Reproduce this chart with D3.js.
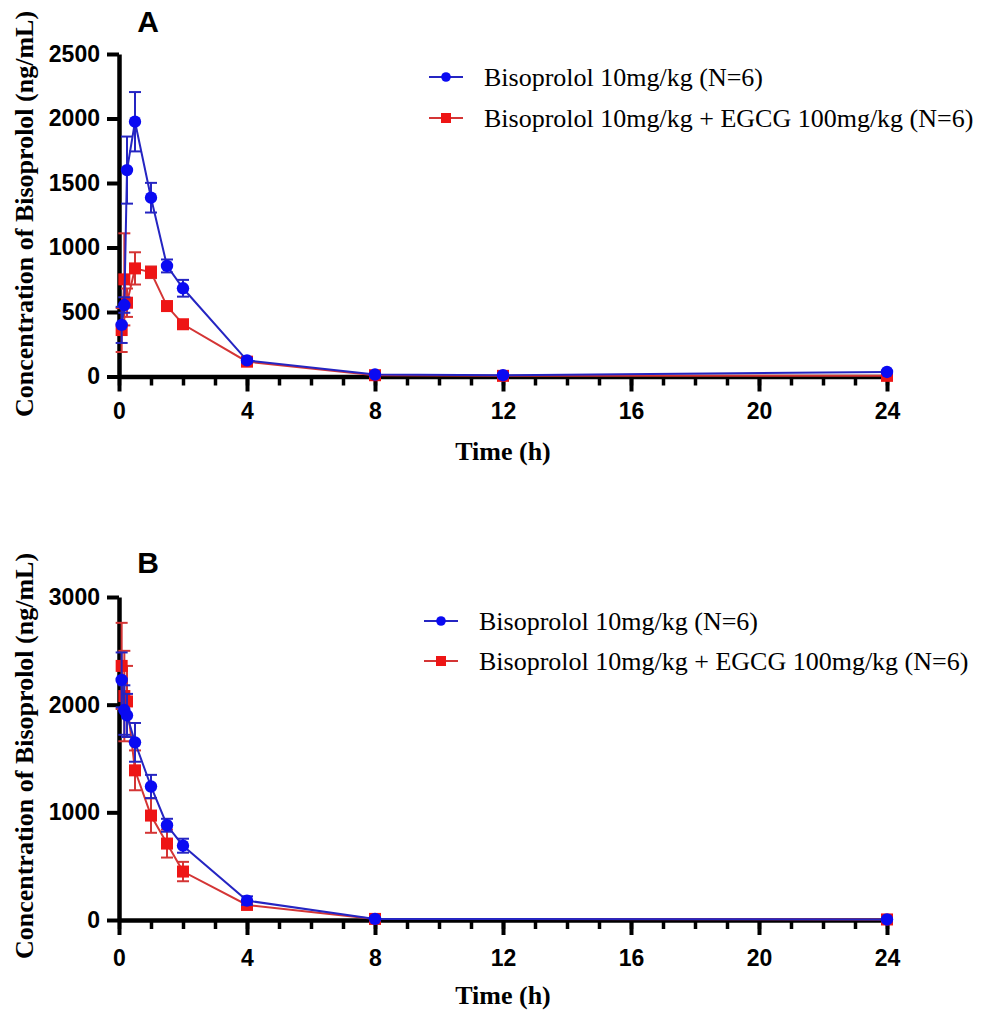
<!DOCTYPE html>
<html lang="en">
<head>
<meta charset="UTF-8">
<title>Bisoprolol concentration</title>
<script src="https://d3js.org/d3.v7.min.js"></script>
<style>
  body { margin: 0; background: #fff; }
  svg { display: block; }
  .tick text { font-family: "Liberation Sans", Arial, sans-serif; font-weight: bold; font-size: 23px; fill: #000; }
  .axis-title { font-family: "Liberation Serif", "Times New Roman", serif; font-weight: bold; font-size: 26px; }
  .legend text { font-family: "Liberation Serif", "Times New Roman", serif; font-size: 26px; }
  .panel-label { font-family: "Liberation Sans", Arial, sans-serif; font-weight: bold; font-size: 30px; }
</style>
</head>
<body>
<div id="chart"></div>
<script>
// Panel A
const timesA = [0.083, 0.167, 0.25, 0.5, 1, 1.5, 2, 4, 8, 12, 24];
const bisoA = [400, 554, 1600, 1975, 1386, 857, 684, 125, 15, 10, 35];
const bisoAsd = [140, 60, 260, 230, 115, 50, 65, 15, 5, 5, 5];
const egcgA = [360, 753, 572, 838, 808, 546, 405, 115, 10, 5, 5];
const egcgAsd = [170, 357, 110, 125, 45, 30, 15, 10, 3, 2, 2];
const yTicksA = [0, 500, 1000, 1500, 2000, 2500];

// Panel B
const timesB = [0.083, 0.167, 0.25, 0.5, 1, 1.5, 2, 4, 8, 24];
const bisoB = [2230, 1950, 1900, 1650, 1240, 880, 690, 180, 10, 5];
const bisoBsd = [255, 230, 200, 180, 108, 60, 65, 40, 5, 3];
const egcgB = [2360, 2080, 2030, 1390, 970, 710, 450, 140, 10, 5];
const egcgBsd = [400, 420, 330, 185, 160, 130, 90, 20, 3, 2];
const yTicksB = [0, 1000, 2000, 3000];

const xMajor = [0, 4, 8, 12, 16, 20, 24];
const xMinor = d3.range(0, 25, 1);
const legendLabels = ["Bisoprolol 10mg/kg (N=6)", "Bisoprolol 10mg/kg + EGCG 100mg/kg (N=6)"];

const width = 992, height = 1017;
const blue = { marker: "#0a0af2", line: "#2525c2" };
const red = { marker: "#ee1515", line: "#d43535" };

const svg = d3.select("#chart").append("svg")
  .attr("width", width).attr("height", height);

function drawPanel(p) {
  const g = svg.append("g");
  const x = d3.scaleLinear().domain([0, 24]).range([119, 887]);
  const y = d3.scaleLinear().domain([0, p.yMax]).range([p.y0, p.yTop]);

  // x minor ticks
  g.append("g")
    .attr("transform", `translate(0,${p.y0})`)
    .call(d3.axisBottom(x).tickValues(xMinor).tickSize(9).tickSizeOuter(0).tickFormat(""))
    .call(a => a.select(".domain").remove())
    .call(a => a.selectAll("line").attr("stroke-width", 3.5));

  // x major ticks + labels
  g.append("g")
    .attr("transform", `translate(0,${p.y0})`)
    .call(d3.axisBottom(x).tickValues(xMajor).tickSize(15).tickSizeOuter(0).tickPadding(p.xPad).tickFormat(d3.format("d")))
    .call(a => a.select(".domain").attr("stroke-width", 4.5))
    .call(a => a.selectAll("line").attr("stroke-width", 4));

  // y axis
  g.append("g")
    .attr("transform", "translate(119,0)")
    .call(d3.axisLeft(y).tickValues(p.yTicks).tickSize(12).tickSizeOuter(0).tickPadding(7).tickFormat(d3.format("d")))
    .call(a => a.select(".domain").attr("stroke-width", 4.5))
    .call(a => a.selectAll("line").attr("stroke-width", 4));

  // titles
  g.append("text").attr("class", "axis-title")
    .attr("text-anchor", "middle")
    .attr("transform", `translate(33,${p.yTitleMid}) rotate(-90)`)
    .text("Concentration of Bisoprolol (ng/mL)");
  g.append("text").attr("class", "axis-title")
    .attr("text-anchor", "middle")
    .attr("x", 503).attr("y", p.xTitleY)
    .text("Time (h)");
  g.append("text").attr("class", "panel-label")
    .attr("text-anchor", "middle")
    .attr("x", 148).attr("y", p.labelY)
    .text(p.label);

  const series = [
    { vals: p.egcg, sd: p.egcgSd, c: red, shape: "square" },
    { vals: p.biso, sd: p.bisoSd, c: blue, shape: "circle" }
  ];

  series.forEach(s => {
    const pts = p.times.map((t, i) => ({ t, v: s.vals[i], sd: s.sd[i] }));
    const sg = g.append("g");

    // error bars
    const eb = sg.selectAll(".eb").data(pts).enter().append("g")
      .attr("stroke", s.c.line).attr("stroke-width", 2).attr("fill", "none");
    eb.append("line")
      .attr("x1", d => x(d.t)).attr("x2", d => x(d.t))
      .attr("y1", d => y(Math.max(0, d.v - d.sd))).attr("y2", d => y(d.v + d.sd));
    eb.append("line")
      .attr("x1", d => x(d.t) - 6).attr("x2", d => x(d.t) + 6)
      .attr("y1", d => y(d.v + d.sd)).attr("y2", d => y(d.v + d.sd));
    eb.append("line")
      .attr("x1", d => x(d.t) - 6).attr("x2", d => x(d.t) + 6)
      .attr("y1", d => y(Math.max(0, d.v - d.sd))).attr("y2", d => y(Math.max(0, d.v - d.sd)));

    // line
    sg.append("path")
      .datum(pts)
      .attr("fill", "none")
      .attr("stroke", s.c.line)
      .attr("stroke-width", 2)
      .attr("d", d3.line().x(d => x(d.t)).y(d => y(d.v)));

    // markers
    if (s.shape === "circle") {
      sg.selectAll("circle").data(pts).enter().append("circle")
        .attr("cx", d => x(d.t)).attr("cy", d => y(d.v)).attr("r", 6.2)
        .attr("fill", s.c.marker);
    } else {
      sg.selectAll("rect").data(pts).enter().append("rect")
        .attr("x", d => x(d.t) - 6).attr("y", d => y(d.v) - 6)
        .attr("width", 12).attr("height", 12)
        .attr("fill", s.c.marker);
    }
  });

  // legend
  const lg = g.append("g").attr("class", "legend");
  [blue, red].forEach((c, i) => {
    const ly = p.legendY[i];
    lg.append("line")
      .attr("x1", p.legendX).attr("x2", p.legendX + 34)
      .attr("y1", ly).attr("y2", ly)
      .attr("stroke", c.line).attr("stroke-width", 2);
    if (i === 0) {
      lg.append("circle").attr("cx", p.legendX + 17).attr("cy", ly).attr("r", 4.8).attr("fill", c.marker);
    } else {
      lg.append("rect").attr("x", p.legendX + 12).attr("y", ly - 5).attr("width", 10).attr("height", 10).attr("fill", c.marker);
    }
    lg.append("text")
      .attr("x", p.legendX + 55).attr("y", ly)
      .attr("dy", "0.33em")
      .text(legendLabels[i]);
  });
}

drawPanel({
  label: "A", labelY: 32,
  times: timesA, biso: bisoA, bisoSd: bisoAsd, egcg: egcgA, egcgSd: egcgAsd,
  yMax: 2500, yTicks: yTicksA, y0: 376.5, yTop: 54,
  xPad: 11, xTitleY: 460, yTitleMid: 214,
  legendX: 429, legendY: [77, 118]
});

drawPanel({
  label: "B", labelY: 573,
  times: timesB, biso: bisoB, bisoSd: bisoBsd, egcg: egcgB, egcgSd: egcgBsd,
  yMax: 3000, yTicks: yTicksB, y0: 920, yTop: 597,
  xPad: 15, xTitleY: 1004, yTitleMid: 756,
  legendX: 424, legendY: [621, 661]
});
</script>
</body>
</html>
